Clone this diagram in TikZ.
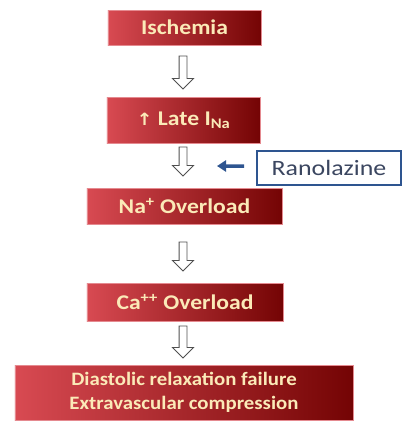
\documentclass[tikz,border=0pt]{standalone}
\usepackage{fontspec}
\setmainfont{Carlito}
\newfontfamily\symfont{DejaVu Sans}
\usetikzlibrary{shapes.arrows,arrows.meta}
\definecolor{boxlight}{HTML}{D84A52}
\definecolor{boxdark}{HTML}{740404}
\definecolor{boxedge}{HTML}{E58A90}
\definecolor{boxtext}{HTML}{FBEAB8}
\definecolor{ranoblue}{HTML}{2E5590}
\definecolor{ranotext}{HTML}{3B4660}
\definecolor{hollowedge}{HTML}{505050}
% slightly widened lettering
\newcommand\widen[2][1.13]{\scalebox{#1}[1]{#2}}
\begin{document}
\begin{tikzpicture}[x=1bp,y=-1bp,
  cause/.style={draw=boxedge, line width=0.8bp, left color=boxlight, right color=boxdark,
    text=boxtext, inner sep=0pt, font=\fontsize{21}{24}\selectfont\bfseries},
  drug/.style={draw=ranoblue, line width=1.6bp, fill=white, text=ranotext, inner sep=0pt,
    minimum width=144bp, minimum height=34bp, font=\fontsize{22}{24}\selectfont},
  hollow/.style={single arrow, draw=hollowedge, line width=0.9bp, fill=white,
    shape border rotate=270, inner sep=3.5bp, minimum width=20bp,
    single arrow head extend=6.5bp, single arrow head indent=0pt},
  blocker/.style={draw=ranoblue, line width=3.5bp, -{Triangle[width=11bp,length=9bp]}}]
\useasboundingbox (0,0) rectangle (410,421);

% chain of events
\node[cause, minimum width=153bp, minimum height=35bp] (isch) at (184.5,27.5) {\widen{Ischemia}};
\node[cause, minimum width=153bp, minimum height=46bp] (late) at (183.5,120)
  {\widen{{\symfont\fontsize{17}{20}\selectfont ↑} Late I\textsubscript{Na}}};
\node[cause, minimum width=195bp, minimum height=36bp] (na) at (184.5,206)
  {\widen{Na\textsuperscript{+} Overload}};
\node[cause, minimum width=196bp, minimum height=38bp] (ca) at (185,302)
  {\widen{Ca\textsuperscript{++} Overload}};
\node[cause, minimum width=338bp, minimum height=55bp, align=center,
  font=\fontsize{19}{24}\selectfont\bfseries] (dias) at (184,392.5)
  {\widen[1.1]{Diastolic relaxation failure}\\\widen[1.1]{Extravascular compression}};

% hollow block arrows between the steps
\node[hollow, minimum height=33bp] (a1) at (183,70.5) {};
\node[hollow, minimum height=29bp] (a2) at (183,159.5) {};
\node[hollow, minimum height=29bp] (a3) at (183,254.5) {};
\node[hollow, minimum height=32bp] (a4) at (183,340) {};

% drug acting on the late sodium current
\node[drug] (rano) at (329,168) {\widen[1.18]{Ranolazine}};
\coordinate (ranotip) at (217,166);
\draw[blocker] ([xshift=-12bp,yshift=2bp]rano.west) -- (ranotip);
\end{tikzpicture}
\end{document}
